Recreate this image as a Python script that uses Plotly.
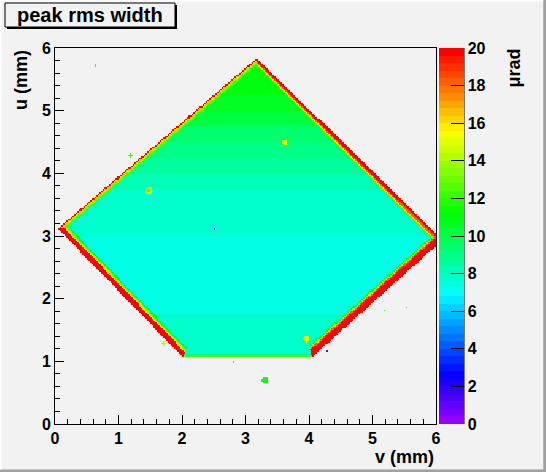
import colorsys
import numpy as np
import plotly.graph_objects as go

# ---------------- data ----------------
title_text = "peak rms width"
x_title = "v (mm)"
y_title = "u (mm)"
z_title = "μrad"

n_bins = 240
axis_range = [0.0, 6.0]
z_range = [0.0, 20.0]
z_ticks = [0, 2, 4, 6, 8, 10, 12, 14, 16, 18, 20]
xy_ticks = [0, 1, 2, 3, 4, 5, 6]

# polygon outline of the filled region (v, u), counter-clockwise
poly_v = [2.01, 4.05, 6.10, 3.18, 0.045]
poly_u = [1.07, 1.07, 2.935, 5.84, 3.12]

# rim profiles (value per 0.02 mm step inward) for each polygon edge
rim_step = 0.02
rim_bottom = [12.5, 11.0, 9.0]
rim_lower_right = [20, 20, 20, 20, 20, 18, 14, 11]
rim_upper_right = [20, 20, 18, 14, 12]
rim_upper_left = [20, 16, 13, 12]
rim_lower_left = [20, 20, 20, 20, 16, 13, 11]

# interior level by u band (band lower edges in mm, value in μrad)
band_u = [1.00, 1.25, 1.50, 1.75, 2.00, 2.25, 2.50, 2.75, 3.00, 3.25,
          3.50, 3.75, 4.00, 4.25, 4.50, 4.75, 5.00, 5.25, 5.50, 5.75]
band_val = [7.8, 7.7, 7.6, 7.5, 7.5, 7.5, 7.5, 7.5, 7.6, 7.7,
            7.9, 8.1, 8.4, 8.9, 9.5, 10.1, 10.6, 10.9, 11.1, 11.3]

# isolated hot / cold spots: v, u, value, radius (mm)
spot_v = [0.64, 1.19, 3.31, 1.71, 2.81, 5.19, 5.53, 4.29, 1.48, 3.62, 3.96, 2.51, 1.48]
spot_u = [5.73, 4.29, 0.70, 1.29, 0.99, 1.82, 1.86, 1.16, 3.72, 4.49, 1.36, 3.11, 3.72]
spot_z = [12.0, 12.0, 11.5, 14.5, 12.0, 12.0, 12.0, 1.0, 14.0, 15.0, 15.0, 1.5, 17.0]
spot_r = [0.02, 0.03, 0.05, 0.03, 0.02, 0.015, 0.015, 0.015, 0.06, 0.04, 0.05, 0.015, 0.025]

# ---------------- build histogram grid ----------------
edges = np.linspace(axis_range[0], axis_range[1], n_bins + 1)
centers = 0.5 * (edges[:-1] + edges[1:])
V, U = np.meshgrid(centers, centers)

rims = [rim_bottom, rim_lower_right, rim_upper_right, rim_upper_left, rim_lower_left]
nv = len(poly_v)
dists = []
for k in range(nv):
    ax_, ay_ = poly_v[k], poly_u[k]
    bx_, by_ = poly_v[(k + 1) % nv], poly_u[(k + 1) % nv]
    ex, ey = bx_ - ax_, by_ - ay_
    ln = np.hypot(ex, ey)
    dists.append((ex * (U - ay_) - ey * (V - ax_)) / ln)
dists = np.array(dists)
inside = np.all(dists >= 0, axis=0)
nearest = np.argmin(dists, axis=0)
dmin = np.min(dists, axis=0)

band_idx = np.clip(np.digitize(U, band_u) - 1, 0, len(band_val) - 1)
Z = np.array(band_val)[band_idx].astype(float)
step_idx = np.floor(dmin / rim_step).astype(int)
for k, prof in enumerate(rims):
    for s, val in enumerate(prof):
        Z[(nearest == k) & (step_idx == s)] = val
Z[~inside] = np.nan

for sv, su, sz, sr in zip(spot_v, spot_u, spot_z, spot_r):
    Z[np.hypot(V - sv, U - su) <= max(sr, 0.013)] = sz

# ROOT "pretty palette": 50 colours, hue 280 -> 0
n_col = 50
colorscale = []
for i in range(n_col):
    hue = 280.0 - (i + 1) * (280.0 / n_col)
    r, g, b = colorsys.hls_to_rgb(hue / 360.0, 0.5, 1.0)
    c = "rgb(%d,%d,%d)" % (round(r * 255), round(g * 255), round(b * 255))
    colorscale.append([i / n_col, c])
    colorscale.append([(i + 1) / n_col, c])

# ---------------- layout helpers (pixel -> paper) ----------------
L, T, W, H = 55, 48, 381, 376
def PX(px):
    return (px - L) / W
def PY(py):
    return (T + H - py) / H

BG = "#F2F2F2"
FONT = "Liberation Sans"

fig = go.Figure()
fig.add_trace(go.Heatmap(
    x=centers, y=centers, z=Z,
    zmin=z_range[0], zmax=z_range[1],
    colorscale=colorscale, zsmooth=False, hoverongaps=False,
    colorbar=dict(
        x=PX(438.7), xanchor="left", xpad=0,
        y=0.5, yanchor="middle", len=1, lenmode="fraction", ypad=0,
        thickness=25, outlinewidth=0,
        tickmode="array", tickvals=z_ticks,
        ticks="inside", ticklen=13, tickwidth=1, tickcolor="black",
        tickfont=dict(family=FONT, size=16, color="black", weight="bold"),
    ),
))

axis_common = dict(
    range=axis_range, tickmode="array", tickvals=xy_ticks,
    ticks="inside", ticklen=9, tickwidth=1, tickcolor="black",
    showline=True, linecolor="black", linewidth=1, mirror=True,
    showgrid=False, zeroline=False,
    tickfont=dict(family=FONT, size=16, color="black", weight="bold"),
    minor=dict(dtick=0.2, ticks="inside", ticklen=5, tickcolor="black", showgrid=False),
)
fig.update_xaxes(**axis_common)
fig.update_yaxes(**axis_common)

shapes = [
    # canvas bevel
    dict(type="rect", xref="paper", yref="paper", x0=PX(0), x1=PX(546), y0=PY(469.5), y1=PY(472),
         line=dict(width=0), fillcolor="#A0A0A0", layer="above"),
    dict(type="rect", xref="paper", yref="paper", x0=PX(543.3), x1=PX(546), y0=PY(0), y1=PY(472),
         line=dict(width=0), fillcolor="#A0A0A0", layer="above"),
    dict(type="rect", xref="paper", yref="paper", x0=PX(0), x1=PX(543.3), y0=PY(0), y1=PY(1.5),
         line=dict(width=0), fillcolor="white", layer="above"),
    dict(type="rect", xref="paper", yref="paper", x0=PX(0), x1=PX(1.5), y0=PY(0), y1=PY(469.5),
         line=dict(width=0), fillcolor="white", layer="above"),
    # title box with shadow
    dict(type="rect", xref="paper", yref="paper", x0=PX(7), x1=PX(177), y0=PY(5), y1=PY(29),
         line=dict(width=0), fillcolor="black", layer="above"),
    dict(type="rect", xref="paper", yref="paper", x0=PX(5), x1=PX(175), y0=PY(3), y1=PY(27),
         line=dict(width=1, color="black"), fillcolor=BG, layer="above"),
    # colour bar axis line
    dict(type="line", xref="paper", yref="paper", x0=PX(464), x1=PX(464), y0=0, y1=1,
         line=dict(width=1, color="black"), layer="above"),
]

annotations = [
    dict(text=title_text, xref="paper", yref="paper", x=PX(90), y=PY(15),
         xanchor="center", yanchor="middle", showarrow=False,
         font=dict(family=FONT, size=20, color="black", weight="bold")),
    dict(text=x_title, xref="paper", yref="paper", x=PX(436), y=PY(457),
         xanchor="right", yanchor="middle", showarrow=False,
         font=dict(family=FONT, size=18, color="black", weight="bold")),
    dict(text=y_title, xref="paper", yref="paper", x=PX(21), y=PY(48),
         xanchor="center", yanchor="top", showarrow=False, textangle=-90,
         font=dict(family=FONT, size=18, color="black", weight="bold")),
    dict(text=z_title, xref="paper", yref="paper", x=PX(513), y=PY(47),
         xanchor="center", yanchor="top", showarrow=False, textangle=-90,
         font=dict(family=FONT, size=18, color="black", weight="bold")),
]

fig.update_layout(
    width=546, height=472, autosize=False,
    margin=dict(l=L, r=546 - L - W, t=T, b=472 - T - H, pad=0),
    paper_bgcolor=BG, plot_bgcolor=BG,
    shapes=shapes, annotations=annotations, showlegend=False,
)

fig.write_html(
    "out.html",
    config={"displayModeBar": False},
    post_script="document.body.style.margin='0';document.body.style.overflow='hidden';",
)
